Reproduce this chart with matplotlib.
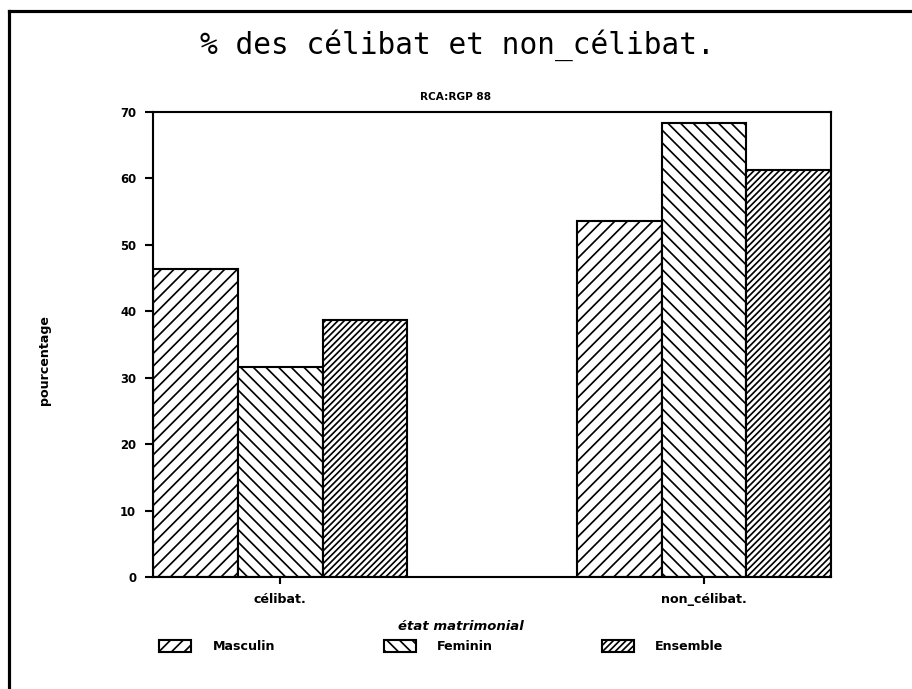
import matplotlib.pyplot as plt
import numpy as np
from matplotlib.lines import Line2D

categories = ["célibat.", "non_célibat."]
series = ["Masculin", "Feminin", "Ensemble"]
masculin = [46.4, 53.6]
feminin = [31.6, 68.4]
ensemble = [38.7, 61.3]
hatches = ["//", "\\\\", "////"]
yticks = [0, 10, 20, 30, 40, 50, 60, 70]


def main():
    plt.rcParams["hatch.linewidth"] = 1.6
    dpi = 76
    fig = plt.figure(figsize=(912 / dpi, 689 / dpi), dpi=dpi)
    ax = fig.add_axes([153 / 912, 1 - 577 / 689, (831 - 153) / 912, (577 - 112) / 689])

    x = np.arange(len(categories))
    w = 0.2
    for i, (name, vals) in enumerate(zip(series, [masculin, feminin, ensemble])):
        ax.bar(x + (i - 1) * w, vals, w, label=name, color="white",
               edgecolor="black", linewidth=2, hatch=hatches[i])

    ax.set_xlim(-0.3, 1.3)
    ax.set_ylim(0, 70)
    ax.set_yticks(yticks)
    ax.set_xticks(x)
    ax.set_xticklabels(categories, fontsize=12, fontweight="bold")
    for lab in ax.get_yticklabels():
        lab.set_fontsize(11)
        lab.set_fontweight("bold")
    ax.tick_params(axis="y", direction="out", length=8, width=2, pad=8)
    ax.tick_params(axis="x", direction="out", length=7, width=2, pad=8)
    for s in ax.spines.values():
        s.set_linewidth(2)

    fig.text(0.502, 0.935, "% des célibat et non_célibat.", ha="center", va="center",
             fontsize=28, family="DejaVu Sans Mono")
    fig.text(0.5, 0.859, "RCA:RGP 88", ha="center", va="center",
             fontsize=10, fontweight="bold")
    fig.text(0.049, 0.478, "pourcentage", ha="center", va="center", rotation=90,
             fontsize=12, fontweight="bold")
    fig.text(0.505, 0.09, "état matrimonial", ha="center", va="center",
             fontsize=12.5, fontweight="bold", style="italic")

    fig.legend(loc="center", bbox_to_anchor=(0.484, 0.062), ncol=3, frameon=False,
               prop={"size": 12, "weight": "bold"}, handlelength=2.5, handleheight=1.1,
               columnspacing=8.6, handletextpad=1.7)

    # outer frame (top and left only)
    fig.add_artist(Line2D([9 / 912, 1.0], [1 - 11 / 689] * 2, color="black", lw=3,
                          transform=fig.transFigure))
    fig.add_artist(Line2D([9 / 912] * 2, [0.0, 1 - 11 / 689], color="black", lw=3,
                          transform=fig.transFigure))

    fig.savefig("out.png", dpi=dpi)
    plt.close(fig)


if __name__ == "__main__":
    main()
